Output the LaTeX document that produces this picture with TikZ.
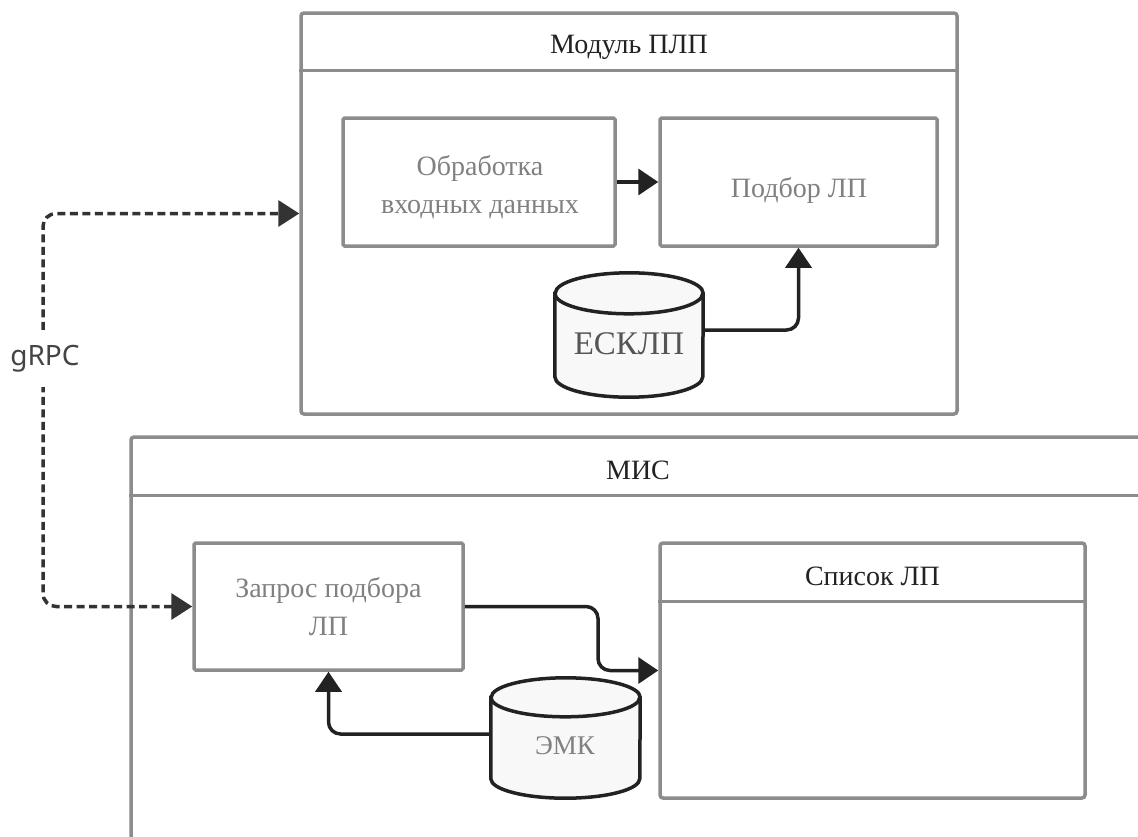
\documentclass[tikz,border=0pt]{standalone}
\usepackage{fontspec}
\setmainfont{Liberation Serif}
\newfontfamily\grpcfont{Noto Sans}
\usetikzlibrary{arrows.meta}
\definecolor{boxgray}{HTML}{8C8C8C}
\definecolor{boxtext}{HTML}{808080}
\definecolor{esktext}{HTML}{555555}
\definecolor{titlec}{HTML}{222222}
\definecolor{connc}{HTML}{222222}
\definecolor{dashc}{HTML}{333333}
\definecolor{cylfill}{HTML}{F8F8F8}
\definecolor{grpctext}{HTML}{444444}
\begin{document}
\begin{tikzpicture}[x=1pt,y=-1pt,
  container/.style={draw=boxgray, line width=3.5pt, rounded corners=3pt, fill=white, inner sep=0pt},
  procbox/.style={draw=boxgray, line width=3.5pt, rounded corners=1.5pt, fill=white, inner sep=0pt},
  proctext/.style={text=boxtext, font=\fontsize{28}{38}\selectfont, align=center, inner sep=0pt, anchor=base},
  titletext/.style={text=titlec, font=\fontsize{28}{34}\selectfont, inner sep=0pt, anchor=base},
  hdrline/.style={draw=boxgray, line width=3.5pt},
  conn/.style={draw=connc, line width=3.5pt, rounded corners=12pt, -{Triangle[length=20pt,width=26pt]}},
  dconn/.style={draw=dashc, line width=3.5pt, dash pattern=on 8pt off 4.5pt, rounded corners=13pt,
    {Triangle[length=21pt,width=26pt]}-{Triangle[length=21pt,width=26pt]}},
  dbarea/.style={inner sep=0pt},
  cyl/.style={draw=connc, line width=3.5pt, fill=cylfill},
  dbtext/.style={inner sep=0pt},
  grpclabel/.style={fill=white, inner xsep=2pt, inner ysep=0pt, minimum height=55pt, text=grpctext,
    font=\grpcfont\fontsize{28}{34}\selectfont}
]
\clip (0,0) rectangle (1138,836);
\fill[white] (0,0) rectangle (1138,836);

% Module PLP container
\node[container, minimum width=656pt, minimum height=401pt] (plp) at (629,213.5) {};
\draw[hdrline] ([yshift=-59pt]plp.north west) -- ([yshift=-59pt]plp.north east);
\node[titletext] (plpt) at (629,53) {Модуль ПЛП};

\node[procbox, minimum width=272pt, minimum height=128pt] (proc) at (479,182) {};
\node[proctext] (proct) at (480,213) {Обработка\\входных данных};
\node[procbox, minimum width=277pt, minimum height=128pt] (sel) at (798.5,182) {};
\node[proctext] (selt) at (799,197) {Подбор ЛП};

% ESKLP database
\node[dbarea, minimum width=148pt, minimum height=124pt] (esk) at (629,335) {};
\path[cyl] ([yshift=-20.5pt]esk.north west) -- ([yshift=20.5pt]esk.south west)
  arc[start angle=180, end angle=360, x radius=74pt, y radius=20.5pt]
  -- ([yshift=-20.5pt]esk.north east)
  arc[start angle=0, end angle=180, x radius=74pt, y radius=20.5pt] -- cycle;
\draw[cyl, fill=none] ([yshift=-20.5pt]esk.north west)
  arc[start angle=180, end angle=360, x radius=74pt, y radius=20.5pt];
\node[dbtext, text=esktext, font=\fontsize{33}{40}\selectfont] (eskl) at (629,344) {ЕСКЛП};

% MIS container
\node[container, minimum width=1014pt, minimum height=463pt] (mis) at (638,668.5) {};
\draw[hdrline] ([yshift=-60pt]mis.north west) -- ([yshift=-60pt]mis.north east);
\node[titletext] (mist) at (638,479) {МИС};

\node[procbox, minimum width=269pt, minimum height=127pt] (zap) at (328.5,606.5) {};
\node[proctext] (zapt) at (328.5,635) {Запрос подбора\\ЛП};

\node[container, minimum width=425pt, minimum height=255pt] (spis) at (872.5,670.5) {};
\draw[hdrline] ([yshift=-60pt]spis.north west) -- ([yshift=-60pt]spis.north east);
\node[titletext] (spist) at (872.5,585) {Список ЛП};

% EMK database
\node[dbarea, minimum width=149pt, minimum height=120pt] (emk) at (565.5,738) {};
\path[cyl] ([yshift=-19.5pt]emk.north west) -- ([yshift=19.5pt]emk.south west)
  arc[start angle=180, end angle=360, x radius=74.5pt, y radius=19.5pt]
  -- ([yshift=-19.5pt]emk.north east)
  arc[start angle=0, end angle=180, x radius=74.5pt, y radius=19.5pt] -- cycle;
\draw[cyl, fill=none] ([yshift=-19.5pt]emk.north west)
  arc[start angle=180, end angle=360, x radius=74.5pt, y radius=19.5pt];
\node[dbtext, text=boxtext, font=\fontsize{27}{33}\selectfont] (emkl) at (565,746) {ЭМК};

% connectors
\draw[conn] (proc.east) -- (sel.west);
\draw[conn] ([yshift=5pt]esk.east) -| (sel.south);
\coordinate (gx) at (43,410);
\draw[dconn] (zap.west) -| (gx) |- (plp.west);
\node[grpclabel] (grpc) at (45,359) {gRPC};
\coordinate (m1) at (598,640);
\draw[conn] (zap.east) -| (m1) |- (spis.west);
\draw[conn] ([yshift=4pt]emk.west) -| (zap.south);
\end{tikzpicture}
\end{document}
